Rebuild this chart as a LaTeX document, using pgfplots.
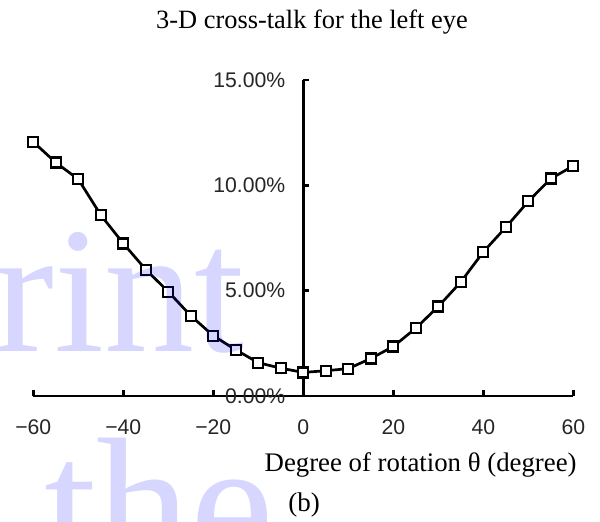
\documentclass[border=0pt]{standalone}
\usepackage{pgfplots}
\pgfplotsset{compat=1.18}
\usepackage{fontspec}
\setmainfont{Liberation Serif}
\newfontfamily\ticksans{Liberation Sans}

\pgfplotstableread{
theta crosstalk
-60 12.06
-55 11.08
-50 10.29
-45 8.59
-40 7.24
-35 6.00
-30 4.95
-25 3.81
-20 2.86
-15 2.19
-10 1.58
-5 1.32
0 1.12
5 1.20
10 1.30
15 1.78
20 2.35
25 3.22
30 4.25
35 5.41
40 6.84
45 8.01
50 9.24
55 10.32
60 10.92
}\lefteye

\begin{document}
\begin{tikzpicture}
\useasboundingbox (-16.65pt,-62.5pt) rectangle (283.35pt,198pt);
\begin{axis}[
  at={(0,0)}, anchor=south west, scale only axis,
  width=270pt, height=158pt,
  xmin=-60, xmax=60, ymin=0, ymax=15,
  axis lines=middle,
  axis line style={-, line width=1.2pt, black},
  hide obscured x ticks=false, hide obscured y ticks=false,
  xtick={-60,-40,-20,0,20,40,60},
  xticklabels={−60,−40,−20,0,20,40,60},
  ytick={0,5,10,15},
  yticklabels={0.00\%,5.00\%,10.00\%,15.00\%},
  tick align=inside,
  major tick length=3pt,
  tick style={black, line width=1.2pt},
  every tick label/.append style={font=\ticksans\fontsize{10.6}{12}\selectfont, text=black!85},
  xticklabel style={anchor=north, yshift=-8.5pt},
  yticklabel style={anchor=east, xshift=-5.5pt},
  clip=false,
]
\addplot[black, line width=1.35pt, mark=square*, mark size=2.5pt,
  mark options={fill=white, draw=black, line width=1.1pt, solid}]
  table[x=theta, y=crosstalk] {\lefteye};
\end{axis}

\begin{scope}[x=0.5pt, y=-0.5pt, shift={(-33.3,-396)}]
  \node[font=\fontsize{13.2}{15}\selectfont] at (312,22) {3-D cross-talk for the left eye};
  \node[anchor=east, inner sep=0pt, font=\fontsize{13.4}{15}\selectfont] at (577,465) {Degree of rotation θ (degree)};
  \node[font=\fontsize{13.5}{15}\selectfont] at (304,505) {(b)};
  % faint overprinted stamp
  \node[anchor=base west, inner sep=0pt, text=blue, opacity=0.16,
    font=\fontsize{90}{90}\selectfont] at (-6,351) {rint};
  \node[anchor=base west, inner sep=0pt, text=blue, opacity=0.16,
    font=\fontsize{94}{94}\selectfont] at (44,568) {the};
\end{scope}
\end{tikzpicture}
\end{document}
